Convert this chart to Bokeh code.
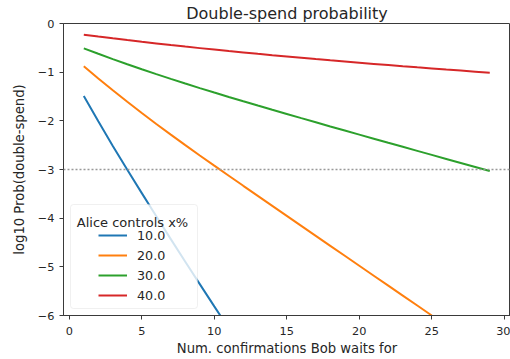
from bokeh.plotting import figure
from bokeh.models import Range1d, Span, Legend, LegendItem, Label, BoxAnnotation
from bokeh.embed import file_html
from bokeh.resources import INLINE

# ---- data ----
x_blue = [1, 2, 3, 4, 5, 6, 7, 8, 9, 10, 11]
y_blue = [-1.490, -2.010, -2.515, -3.005, -3.485, -3.960, -4.430, -4.895, -5.355, -5.812, -6.267]

x_orange = list(range(1, 26))
y_orange = [-0.880, -1.130, -1.373, -1.609, -1.839, -2.064, -2.284, -2.500, -2.712, -2.921,
            -3.128, -3.335, -3.541, -3.747, -3.953, -4.158, -4.363, -4.568, -4.773, -4.978,
            -5.183, -5.387, -5.591, -5.795, -5.999]

x_green = list(range(1, 30))
y_green = [-0.510, -0.622, -0.731, -0.837, -0.940, -1.040, -1.138, -1.234, -1.328, -1.419,
           -1.509, -1.598, -1.686, -1.773, -1.859, -1.945, -2.030, -2.115, -2.199, -2.283,
           -2.367, -2.451, -2.534, -2.617, -2.700, -2.783, -2.865, -2.947, -3.029]

x_red = list(range(1, 30))
y_red = [-0.230, -0.268, -0.305, -0.341, -0.376, -0.410, -0.443, -0.475, -0.506, -0.5365,
         -0.5665, -0.5955, -0.624, -0.652, -0.679, -0.7055, -0.7315, -0.757, -0.782, -0.8065,
         -0.8305, -0.8545, -0.878, -0.901, -0.9235, -0.946, -0.968, -0.9895, -1.0105]

series_labels = ["10.0", "20.0", "30.0", "40.0"]
series_colors = ["#1f77b4", "#ff7f0e", "#2ca02c", "#d62728"]
threshold = -3

x_ticks = [0, 5, 10, 15, 20, 25, 30]
x_tick_labels = ["0", "5", "10", "15", "20", "25", "30"]
y_ticks = [0, -1, -2, -3, -4, -5, -6]
y_tick_labels = ["0", "\u22121", "\u22122", "\u22123", "\u22124", "\u22125", "\u22126"]

title_text = "Double-spend probability"
x_label = "Num. confirmations Bob waits for"
y_label = "log10 Prob(double-spend)"
legend_title = "Alice controls x%"

FONT = "DejaVu Sans"
TXT = "#262626"
AX = "#3a3a3a"

p = figure(width=510, height=359, x_range=Range1d(-0.4, 30.43), y_range=Range1d(-6, 0),
           output_backend="svg", toolbar_location=None,
           min_border_left=63, min_border_right=0, min_border_top=23, min_border_bottom=44)
p.background_fill_color = "white"
p.border_fill_color = "white"
p.grid.visible = False
p.outline_line_color = AX
p.outline_line_width = 1

p.title.text = title_text
p.title.align = "center"
p.title.text_font = FONT
p.title.text_font_size = "16px"
p.title.text_font_style = "normal"
p.title.text_color = TXT
p.title.standoff = 2
p.title.offset = 0

for ax in (p.xaxis, p.yaxis):
    ax.axis_line_color = AX
    ax.major_tick_line_color = AX
    ax.minor_tick_line_color = None
    ax.major_tick_out = 4
    ax.major_tick_in = 0
    ax.major_label_text_font = FONT
    ax.major_label_text_font_size = "11.3px"
    ax.major_label_text_color = TXT
    ax.axis_label_text_font = FONT
    ax.axis_label_text_font_size = "13.2px"
    ax.axis_label_text_font_style = "normal"
    ax.axis_label_text_color = TXT

p.xaxis.ticker = x_ticks
p.xaxis.major_label_overrides = dict(zip(x_ticks, x_tick_labels))
p.yaxis.ticker = y_ticks
p.yaxis.major_label_overrides = dict(zip(y_ticks, y_tick_labels))
p.xaxis.axis_label = x_label
p.yaxis.axis_label = y_label
p.xaxis.major_label_standoff = 7
p.xaxis.axis_label_standoff = 3
p.yaxis.major_label_standoff = 5
p.yaxis.axis_label_standoff = 8

p.add_layout(Span(location=threshold, dimension="width", line_color="#999999",
                  line_dash="2 2", line_width=1.5))

xs = [x_blue, x_orange, x_green, x_red]
ys = [y_blue, y_orange, y_green, y_red]
renderers = []
for xv, yv, c in zip(xs, ys, series_colors):
    renderers.append(p.line(xv, yv, line_color=c, line_width=2))

# legend frame + title
p.add_layout(BoxAnnotation(left=7, right=134, bottom=7, top=111,
                           left_units="screen", right_units="screen",
                           bottom_units="screen", top_units="screen",
                           fill_color="white", fill_alpha=0.8,
                           line_color="#cccccc", line_width=1, border_radius=3))
p.add_layout(Label(x=69, y=93.5, x_units="screen", y_units="screen", text=legend_title,
                   text_font=FONT, text_font_size="13px", text_color=TXT,
                   text_align="center", text_baseline="alphabetic"))

legend = Legend(items=[LegendItem(label=l, renderers=[r]) for l, r in zip(series_labels, renderers)],
                location=(35, 10), padding=0, margin=0, spacing=0,
                glyph_width=29, glyph_height=20, label_height=20, label_standoff=10,
                label_text_font=FONT, label_text_font_size="12.7px", label_text_color=TXT,
                background_fill_alpha=0, border_line_color=None)
p.add_layout(legend)

open("out.html", "w").write(file_html(p, INLINE))
